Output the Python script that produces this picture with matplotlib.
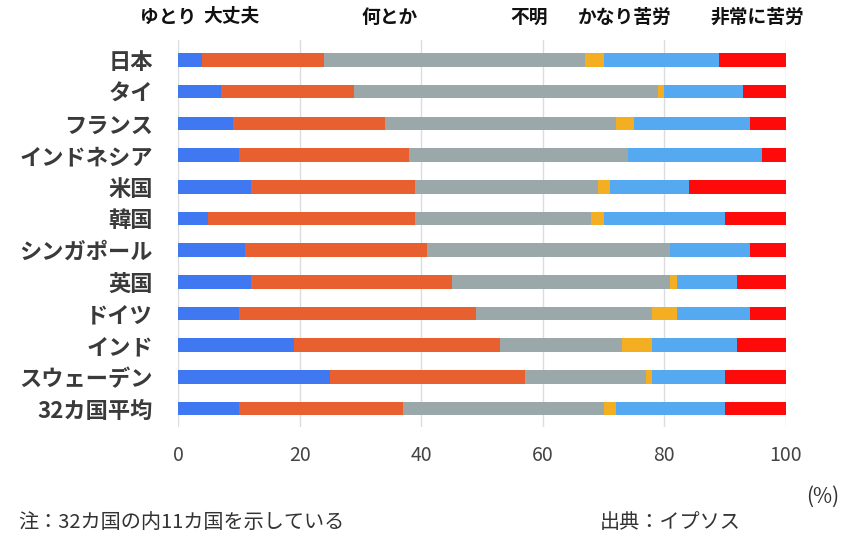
import matplotlib
matplotlib.use("Agg")
import matplotlib.pyplot as plt
import numpy as np

plt.rcParams['font.family'] = ['Noto Sans CJK JP', 'DejaVu Sans']

# countries, top to bottom
countries = ["日本", "タイ", "フランス", "インドネシア", "米国", "韓国",
             "シンガポール", "英国", "ドイツ", "インド", "スウェーデン", "32カ国平均"]

# answer categories (left to right) and their shares in %
categories = ["ゆとり", "大丈夫", "何とか", "不明", "かなり苦労", "非常に苦労"]
yutori   = [4, 7, 9, 10, 12, 5, 11, 12, 10, 19, 25, 10]
daijobu  = [20, 22, 25, 28, 27, 34, 30, 33, 39, 34, 32, 27]
nantoka  = [43, 50, 38, 36, 30, 29, 40, 36, 29, 20, 20, 33]
fumei    = [3, 1, 3, 0, 2, 2, 0, 1, 4, 5, 1, 2]
kanari   = [19, 13, 19, 22, 13, 20, 13, 10, 12, 14, 12, 18]
hijou    = [11, 7, 6, 4, 16, 10, 6, 8, 6, 8, 10, 10]

series = [yutori, daijobu, nantoka, fumei, kanari, hijou]
colors = ["#3F78F0", "#E85F30", "#9AA8AA", "#F4AE22", "#55A9F0", "#FF0A0A"]

fig = plt.figure(figsize=(8.5, 5.4), dpi=100)
# plot area: x 178..786 px, y 40..427 px
ax = fig.add_axes([178 / 850, 1 - 427 / 540, 608 / 850, 387 / 540])

y = np.arange(len(countries))
left = np.zeros(len(countries))
for vals, col in zip(series, colors):
    ax.barh(y, vals, left=left, height=0.43, color=col, zorder=3)
    left += np.array(vals)

ax.set_xlim(0, 100)
ax.set_ylim(len(countries) - 0.42, -0.63)
ax.set_xticks([0, 20, 40, 60, 80, 100])
ax.set_yticks(y)
ax.set_yticklabels(countries, fontsize=16, fontweight="bold", color="#3a3a3a")
ax.tick_params(axis="x", length=0, pad=13, labelsize=14, labelcolor="#444444")
ax.tick_params(axis="y", length=0, pad=18)
ax.grid(axis="x", color="#DADDE0", linewidth=1, zorder=0)
for s in ax.spines.values():
    s.set_visible(False)

# header labels above the bars (centre x in px)
header_x = [168, 231, 390, 529, 625, 757]
for name, hx in zip(categories, header_x):
    fig.text(hx / 850, 1 - 17 / 540, name, fontsize=13.5, fontweight="bold",
             color="#111111", ha="center", va="center")

fig.text(823 / 850, 1 - 497 / 540, "(%)", fontsize=15, color="#333333",
         ha="center", va="center")
fig.text(18 / 850, 1 - 522 / 540, "注：32カ国の内11カ国を示している", fontsize=14.5,
         color="#333333", ha="left", va="center")
fig.text(600 / 850, 1 - 522 / 540, "出典：イプソス", fontsize=14.5,
         color="#333333", ha="left", va="center")

fig.savefig("out.png", dpi=100)
